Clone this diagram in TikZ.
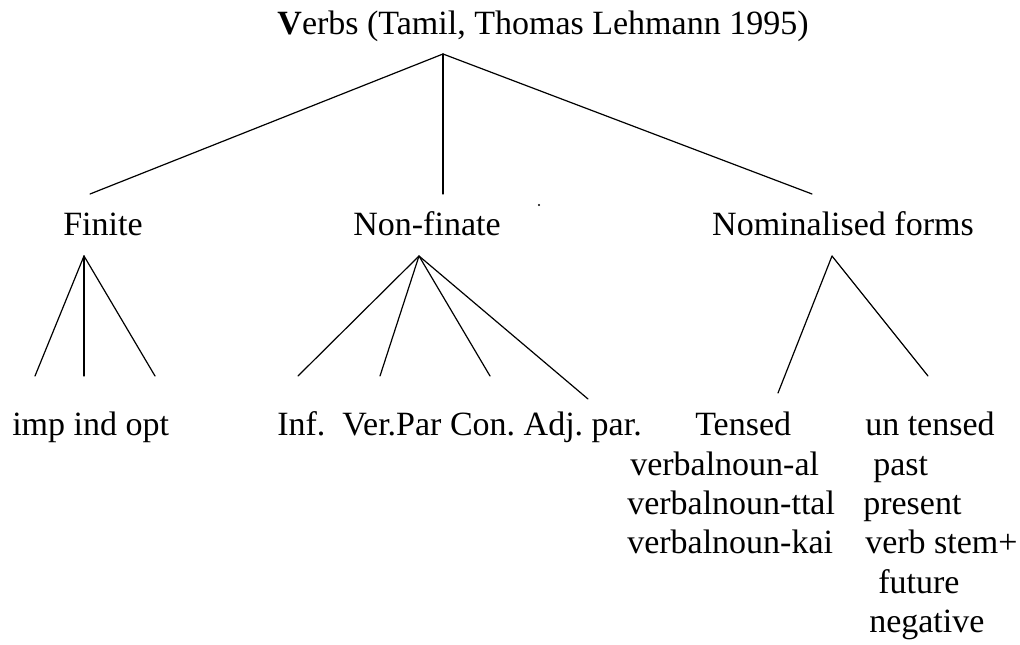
\documentclass[tikz,border=0pt]{standalone}
\usepackage{fontspec}
\setmainfont{Liberation Serif}
\usepackage{tikz}
\usetikzlibrary{positioning}
\tikzstyle{word}   = [inner sep=0pt, anchor=base, font=\fontsize{25.5pt}{29pt}\selectfont]
\tikzstyle{wordl}  = [word, anchor=base west]
\tikzstyle{branch} = [line width=0.9pt, line cap=round]
\frenchspacing

\begin{document}
\begin{tikzpicture}[x=0.75pt, y=-0.75pt]
    \useasboundingbox (0,0) rectangle (1020,645);

    \node (verbs) at (543, 35)  [word]  {\textbf{V}erbs (Tamil, Thomas Lehmann 1995)};
    \node (fin)   at (103, 236) [word]  {Finite};
    \node (non)   at (427, 236) [word]  {Non-finate};
    \node (nom)   at (843, 236) [word]  {Nominalised forms};
    \node (finx)  at (12,  435) [wordl] {imp ind opt};
    \node (nonx)  at (277, 435) [wordl] {Inf.\ \ Ver.Par Con. Adj. par.};
    \node (tns)   at (695, 435) [wordl] {Tensed};
    \node (vnal)  at (630, 475) [wordl] {verbalnoun-al};
    \node (vntt)  at (627, 514) [wordl] {verbalnoun-ttal};
    \node (vnkai) at (627, 553) [wordl] {verbalnoun-kai};
    \node (unt)   at (865, 435) [wordl] {un tensed};
    \node (past)  at (873, 475) [wordl] {past};
    \node (pres)  at (863, 514) [wordl] {present};
    \node (stem)  at (865, 553) [wordl] {verb stem+};
    \node (fut)   at (878, 593) [wordl] {future};
    \node (neg)   at (869, 632) [wordl] {negative};

    % branch ends
    \coordinate (v-top)   at (443, 54);
    \coordinate (v-fin)   at (90,  194);
    \coordinate (v-non)   at (443, 194);
    \coordinate (v-nom)   at (812, 194);
    \coordinate (fin-top) at (84,  256);
    \coordinate (fin-imp) at (35,  376);
    \coordinate (fin-ind) at (84,  376);
    \coordinate (fin-opt) at (155, 376);
    \coordinate (non-top) at (419, 256);
    \coordinate (non-inf) at (298, 376);
    \coordinate (non-ver) at (380, 376);
    \coordinate (non-con) at (490, 376);
    \coordinate (non-adj) at (588, 399);
    \coordinate (nom-top) at (832, 256);
    \coordinate (nom-tns) at (778, 393);
    \coordinate (nom-unt) at (928, 376);

    \draw [branch] (v-top) -- (v-fin);
    \draw [branch] (v-top) -- (v-non);
    \draw [branch] (v-top) -- (v-nom);
    \draw [branch] (fin-top) -- (fin-imp);
    \draw [branch] (fin-top) -- (fin-ind);
    \draw [branch] (fin-top) -- (fin-opt);
    \draw [branch] (non-top) -- (non-inf);
    \draw [branch] (non-top) -- (non-ver);
    \draw [branch] (non-top) -- (non-con);
    \draw [branch] (non-top) -- (non-adj);
    \draw [branch] (nom-top) -- (nom-tns);
    \draw [branch] (nom-top) -- (nom-unt);

    \fill (539,205) circle (1.1);
\end{tikzpicture}
\end{document}
